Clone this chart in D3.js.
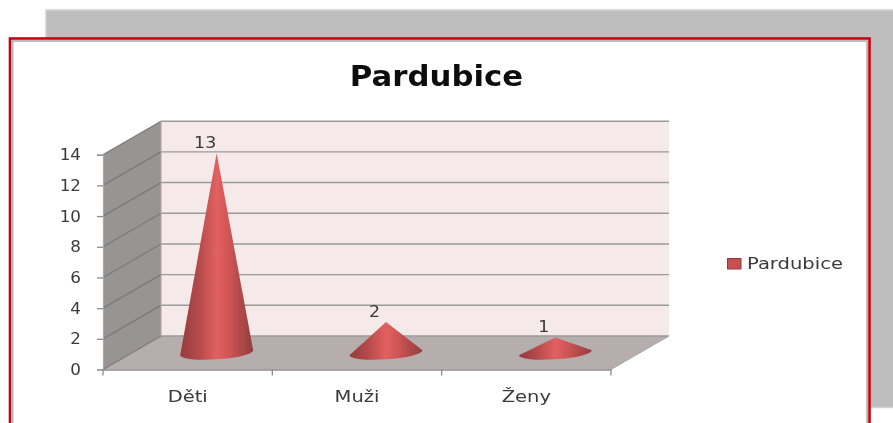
<!DOCTYPE html>
<html lang="en">
<head>
  <meta charset="UTF-8">
  <title>Pardubice</title>
  <script src="https://d3js.org/d3.v7.min.js"></script>
  <style>
    html, body { margin: 0; padding: 0; background: #fff; }
    svg { display: block; }
    text { font-family: "DejaVu Sans", sans-serif; fill: #3a3a3a; }
  </style>
</head>
<body>
  <svg width="893" height="423"></svg>

  <script>
    const categories = ["Děti", "Muži", "Ženy"];
    const values = [13, 2, 1];
    const yTicks = [0, 2, 4, 6, 8, 10, 12, 14];
    const seriesName = "Pardubice";

    const width = 893, height = 423;
    const svg = d3.select("svg");
    const depthX = 58, depthY = -33.5;

    const x = d3.scaleBand().domain(categories).range([103, 611]);
    const y = d3.scaleLinear().domain([0, 14]).range([369.5, 154.7]);

    const defs = svg.append("defs");
    const coneGrad = defs.append("linearGradient").attr("id", "cone");
    [[0, "#943c3c"], [0.25, "#b54a4a"], [0.5, "#e26060"], [0.65, "#d25656"], [0.85, "#ac4848"], [1, "#943e3e"]]
      .forEach(([o, c]) => coneGrad.append("stop").attr("offset", o).attr("stop-color", c));
    defs.append("filter").attr("id", "soft")
      .append("feGaussianBlur").attr("stdDeviation", 0.5);

    // the picture's text is wider than the font, so stretch it
    function stretch(sel, k) {
      sel.each(function () {
        d3.select(this)
          .attr("textLength", this.getComputedTextLength() * k)
          .attr("lengthAdjust", "spacingAndGlyphs");
      });
    }

    const root = svg.append("g").attr("filter", "url(#soft)");

    // Slide frames behind the chart
    root.append("rect").attr("x", 46).attr("y", 10).attr("width", 860).attr("height", 397.5)
      .attr("fill", "#bebebe").attr("stroke", "#d2d2d2").attr("stroke-width", 1.5);
    root.append("rect").attr("x", 10).attr("y", 38.5).attr("width", 859.5).attr("height", 400)
      .attr("fill", "#fff").attr("stroke", "#c8060c").attr("stroke-width", 2.6);
    root.append("rect").attr("x", 12.6).attr("y", 41).attr("width", 854.5).attr("height", 400)
      .attr("fill", "none").attr("stroke", "#b4b4b8").attr("stroke-width", 1.8);

    const x0 = x.range()[0], x1 = x.range()[1];
    const poly = pts => "M" + pts.map(p => p.join(",")).join("L") + "Z";

    // Left wall, floor, back wall
    root.append("path")
      .attr("d", poly([[x0, y(0)], [x0, y(14)], [x0 + depthX, y(14) + depthY], [x0 + depthX, y(0) + depthY]]))
      .attr("fill", "#989492");
    root.append("path")
      .attr("d", poly([[x0, y(0)], [x1, y(0)], [x1 + depthX, y(0) + depthY], [x0 + depthX, y(0) + depthY]]))
      .attr("fill", "#b6aeae");
    root.append("rect")
      .attr("x", x0 + depthX).attr("y", y(14) + depthY)
      .attr("width", x1 - x0).attr("height", y(0) - y(14))
      .attr("fill", "#f5e9e9");

    // Gridlines along the side wall and back wall
    root.append("g").selectAll("path")
      .data(yTicks)
      .join("path")
      .attr("d", d => `M${x0},${y(d)}L${x0 + depthX},${y(d) + depthY}`)
      .attr("fill", "none")
      .attr("stroke", "#7c7a7a")
      .attr("stroke-width", 1.3);
    root.append("g").selectAll("line")
      .data(yTicks)
      .join("line")
      .attr("x1", x0 + depthX).attr("x2", x1 + depthX)
      .attr("y1", d => y(d) + depthY).attr("y2", d => y(d) + depthY)
      .attr("stroke", "#9c9a9a")
      .attr("stroke-width", 1.4);
    root.append("line")
      .attr("x1", x0 + depthX).attr("x2", x0 + depthX)
      .attr("y1", y(14) + depthY).attr("y2", y(0) + depthY)
      .attr("stroke", "#a8a6a6");
    root.append("line")
      .attr("x1", x1).attr("x2", x1 + depthX)
      .attr("y1", y(0)).attr("y2", y(0) + depthY)
      .attr("stroke", "#a8a6a6");

    // Axes
    const yAxis = root.append("g")
      .attr("transform", `translate(${x0},0)`)
      .call(d3.axisLeft(y).tickValues(yTicks).tickSize(6).tickPadding(16));
    yAxis.selectAll("text").style("font-size", "15.5px").call(stretch, 1.08);
    yAxis.selectAll("line").attr("stroke", "#8c8c8c").attr("stroke-width", 1.3);
    yAxis.select(".domain").attr("stroke", "#a8a8a8").attr("stroke-width", 1.2);

    const xAxis = root.append("g")
      .attr("transform", `translate(0,${y(0)})`)
      .call(d3.axisBottom(x).tickSize(0).tickPadding(22));
    xAxis.selectAll("text").style("font-size", "15px").call(stretch, 1.3);
    xAxis.select(".domain").attr("stroke", "#8c8c8c").attr("stroke-width", 1.6);
    root.append("g").selectAll("line")
      .data([...categories.map(c => x(c)), x1])
      .join("line")
      .attr("x1", d => d).attr("x2", d => d)
      .attr("y1", y(0)).attr("y2", y(0) + 6)
      .attr("stroke", "#8c8c8c").attr("stroke-width", 1.3);

    // Cones
    const rx = x.bandwidth() * 0.2155, ry = 6.6, tilt = 2.5;
    const baseY = y(0) + depthY / 2;
    const coneX = c => x(c) + x.bandwidth() / 2 + depthX / 2;
    const rot = Math.atan2(-2 * tilt, 2 * rx) * 180 / Math.PI;

    root.append("g").selectAll("path")
      .data(values)
      .join("path")
      .attr("d", (d, i) => {
        const cx = coneX(categories[i]);
        const top = baseY - (y(0) - y(d));
        return `M${cx},${top}L${cx - rx},${baseY + tilt}A${rx},${ry} ${rot} 0 0 ${cx + rx},${baseY - tilt}Z`;
      })
      .attr("fill", "url(#cone)");

    // Value labels
    root.append("g").selectAll("text")
      .data(values)
      .join("text")
      .attr("x", (d, i) => coneX(categories[i]) - 11.5)
      .attr("y", d => baseY - (y(0) - y(d)) - 5.5)
      .attr("text-anchor", "middle")
      .attr("font-size", 15.5)
      .text(d => d)
      .call(stretch, 1.12);

    // Title
    root.append("text")
      .attr("x", 436.5).attr("y", 85.5)
      .attr("text-anchor", "middle")
      .attr("font-size", 28)
      .attr("font-weight", "bold")
      .style("fill", "#111")
      .text(seriesName)
      .call(stretch, 1.1);

    // Legend
    root.append("rect")
      .attr("x", 727.5).attr("y", 258.5).attr("width", 13.5).attr("height", 10.5)
      .attr("fill", "#c65050").attr("stroke", "#8e3c3c");
    root.append("text")
      .attr("x", 747).attr("y", 269)
      .attr("font-size", 15.5)
      .text(seriesName)
      .call(stretch, 1.26);
  </script>
</body>
</html>
